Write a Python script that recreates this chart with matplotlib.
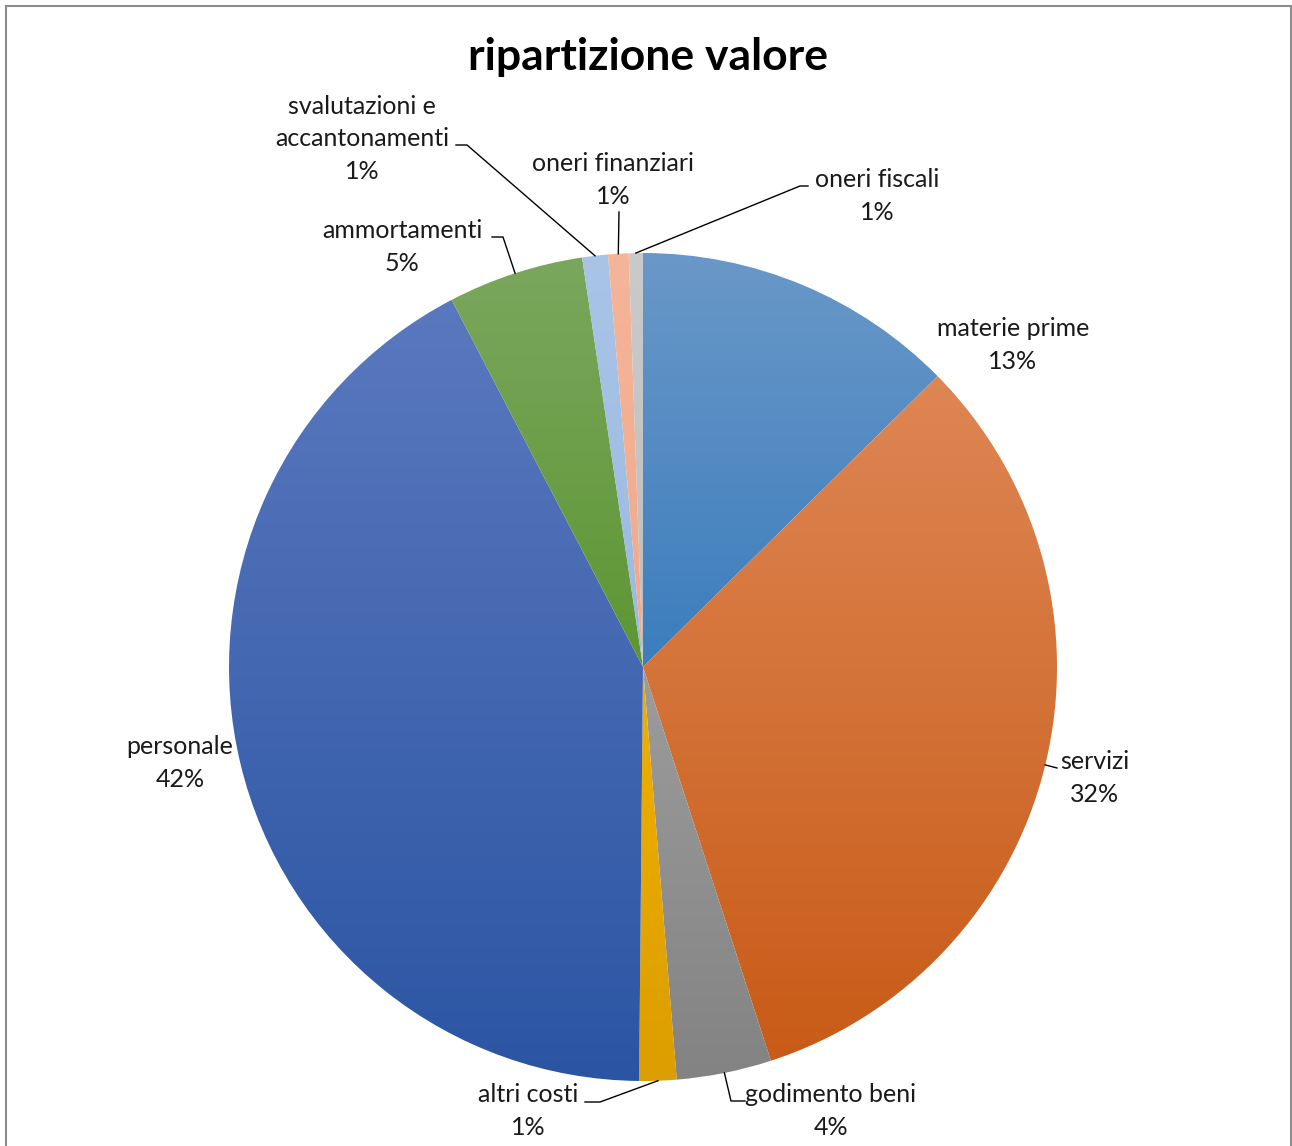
import matplotlib
matplotlib.use('Agg')
import matplotlib.pyplot as plt
import numpy as np
from matplotlib.colors import LinearSegmentedColormap

plt.rcParams['font.family'] = ['Lato', 'DejaVu Sans']

# dati
labels = ['materie prime', 'servizi', 'godimento beni', 'altri costi', 'personale',
          'ammortamenti', 'svalutazioni e\naccantonamenti', 'oneri finanziari', 'oneri fiscali']
values = [12.6, 32.4, 3.7, 1.45, 42.2, 5.3, 1.0, 0.8, 0.55]

# colori (chiaro in alto, scuro in basso)
top_colors = ['#6a98c8', '#de8654', '#9c9c9c', '#f0b000', '#5a78be',
              '#7aa75e', '#a9c4e7', '#f5b59a', '#cacaca']
bottom_colors = ['#3b7dbd', '#c85b17', '#838383', '#dc9e00', '#2b55a3',
                 '#5d9632', '#9bb9e0', '#efa98a', '#bebebe']

# posizione etichette (pixel)
label_px = [(1013, 345), (1095, 778), (831, 1111), (528, 1111), (180, 763),
            (402, 247), (362, 139), (613, 180), (877, 196)]

W, H = 1292, 1146
cx, cy, R = 643, 667, 414

fig = plt.figure(figsize=(W / 100, H / 100), dpi=100)
fig.patch.set_facecolor('white')

# cornice
frame = plt.Rectangle((6 / W, -0.01), (1291 - 6) / W, (H - 6) / H + 0.01, transform=fig.transFigure,
                      fill=False, edgecolor='#8c8c8c', linewidth=1.5)
fig.add_artist(frame)

ax = fig.add_axes([(cx - R) / W, (H - cy - R) / H, 2 * R / W, 2 * R / H])
ax.set_xlim(-1, 1)
ax.set_ylim(-1, 1)
ax.set_aspect('equal')
ax.axis('off')

wedges, _ = ax.pie(values, startangle=90, counterclock=False, radius=1,
                   wedgeprops=dict(linewidth=0))

grad = np.linspace(0, 1, 256).reshape(-1, 1)
for w, c1, c2 in zip(wedges, top_colors, bottom_colors):
    ext = w.get_path().get_extents()
    cmap = LinearSegmentedColormap.from_list('g', [c2, c1])
    w.set_facecolor('none')
    im = ax.imshow(grad, cmap=cmap, origin='lower', aspect='auto',
                   extent=[ext.x0, ext.x1, ext.y0, ext.y1], interpolation='bicubic', zorder=1)
    im.set_clip_path(w)
ax.set_xlim(-1, 1)
ax.set_ylim(-1, 1)

fig.text(648 / W, 1 - 57 / H, 'ripartizione valore', ha='center', va='center',
         fontsize=32, fontweight='bold', color='black')


def px2d(px, py):
    return (px - cx) / R, (cy - py) / R


total = sum(values)
for i, (lab, v) in enumerate(zip(labels, values)):
    tx, ty = px2d(*label_px[i])
    pct = '%d%%' % int(v / total * 100 + 0.5)
    ax.text(tx, ty, lab + '\n' + pct, ha='center', va='center', fontsize=18,
            linespacing=1.5, color='#1a1a1a', zorder=5, clip_on=False)

# linee guida (punto di attacco etichetta in pixel)
leaders = {
    1: [(1057, 768)],
    2: [(745, 1101), (731, 1101)],
    3: [(585, 1102), (600, 1102)],
    5: [(492, 237), (503, 237)],
    6: [(456, 145), (467, 145)],
    7: [(619, 212)],
    8: [(808, 186), (800, 186)],
}
cum_list = np.cumsum([0] + values)
for i, pts in leaders.items():
    mid = (cum_list[i] + values[i] / 2) / total * 2 * np.pi
    ex, ey = np.sin(mid), np.cos(mid)
    xs = [px2d(*p)[0] for p in pts] + [ex]
    ys = [px2d(*p)[1] for p in pts] + [ey]
    ax.plot(xs, ys, color='black', linewidth=1, zorder=4, clip_on=False)

fig.savefig('out.png', dpi=100, facecolor='white')
